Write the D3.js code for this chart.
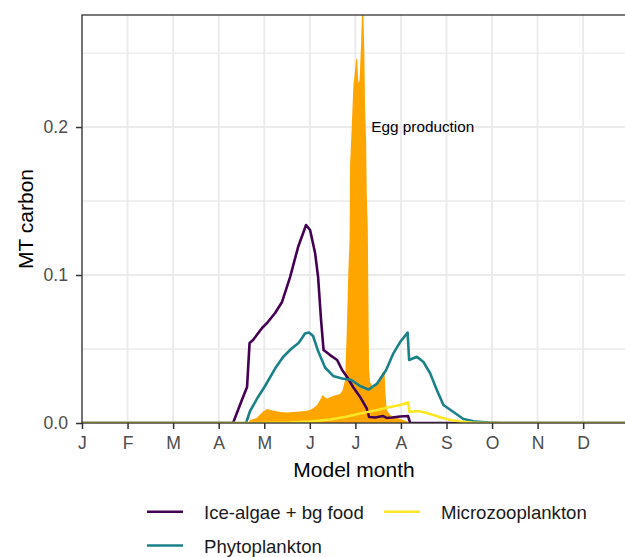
<!doctype html>
<html lang="en">
<head>
  <meta charset="utf-8">
  <title>MT carbon by model month</title>
  <style>
    * { margin: 0; padding: 0; box-sizing: border-box; }
    body { background: #fff; }
    svg { font-family: "Liberation Sans", Arial, sans-serif; display: block; }
    .tick text { fill: #4d4d4d; font-size: 17.6px; }
    .tick line { stroke: #333; stroke-width: 1.5; }
  </style>
</head>
<body>
  <div id="container"></div>
  <script src="https://cdn.jsdelivr.net/npm/d3@7"></script>
  <script>
    // x values are model months, 0 = start of January
    const months = ['J','F','M','A','M','J','J','A','S','O','N','D'];
    const yTicks = [0, 0.1, 0.2];
    const yMinor = [0.05, 0.15, 0.25];

    const eggProduction = [
      [3.645,0],[3.689,0.002],[3.831,0.0034],[3.974,0.0078],[4.062,0.0095],[4.194,0.0084],
      [4.347,0.0074],[4.501,0.0071],[4.633,0.0074],[4.786,0.0078],[4.896,0.0081],[5.006,0.0088],
      [5.094,0.0105],[5.160,0.0122],[5.225,0.0155],[5.280,0.0189],[5.335,0.0172],[5.379,0.0166],
      [5.478,0.0179],[5.588,0.0189],[5.665,0.0196],[5.720,0.0223],[5.774,0.0291],[5.812,0.0628],
      [5.847,0.1034],[5.873,0.1236],[5.884,0.1743],[5.922,0.2014],[5.957,0.2284],[5.983,0.2351],
      [6.016,0.2453],[6.038,0.2466],[6.066,0.2297],[6.093,0.2318],[6.126,0.2568],[6.154,0.285],
      [6.174,0.28],[6.198,0.2486],[6.214,0.2115],[6.236,0.1912],[6.251,0.1541],[6.273,0.1304],
      [6.286,0.0831],[6.301,0.0358],[6.323,0.0277],[6.389,0.0236],[6.455,0.0257],[6.543,0.0304],
      [6.598,0.0345],[6.642,0.0331],[6.664,0.0189],[6.690,0.0088],[6.762,0.0054],[6.872,0.0041],
      [6.982,0.0027],[7.114,0.0014],[7.202,0]
    ];

    const iceAlgae = [
      [0,0],[3.315,0],[3.535,0.0176],[3.623,0.0243],[3.678,0.0541],[3.754,0.0561],[3.952,0.0642],
      [4.062,0.0676],[4.238,0.0743],[4.391,0.0818],[4.567,0.0986],[4.743,0.1189],[4.918,0.1338],
      [5.006,0.1304],[5.116,0.1149],[5.182,0.0986],[5.247,0.0696],[5.302,0.0493],[5.445,0.0459],
      [5.599,0.0426],[5.709,0.0358],[5.818,0.0311],[5.950,0.0243],[6.104,0.0176],[6.246,0.0101],
      [6.301,0.0041],[6.433,0.0037],[6.609,0.0047],[6.686,0.0034],[6.806,0.0037],[6.982,0.0044],
      [7.158,0.0047],[7.202,0],[11.95,0]
    ];

    const phytoplankton = [
      [0,0],[3.601,0],[3.689,0.0081],[3.864,0.0176],[4.018,0.025],[4.238,0.0368],[4.413,0.0446],
      [4.589,0.05],[4.753,0.0541],[4.896,0.0605],[4.984,0.0611],[5.072,0.0588],[5.182,0.0486],
      [5.335,0.0375],[5.511,0.0318],[5.709,0.0301],[5.906,0.0291],[6.104,0.025],[6.286,0.0226],
      [6.470,0.0264],[6.675,0.0358],[6.835,0.0471],[6.982,0.0547],[7.147,0.0611],[7.180,0.0426],
      [7.349,0.0448],[7.494,0.0412],[7.641,0.0336],[7.788,0.0223],[7.933,0.0122],[8.152,0.0074],
      [8.372,0.0027],[8.591,0.0012],[8.914,0.0003],[9.178,0],[11.95,0]
    ];

    const microzooplankton = [
      [0,0],[3.908,0],[4.567,0.0003],[5.006,0.001],[5.445,0.0024],[5.774,0.0041],[6.104,0.0064],
      [6.433,0.0084],[6.762,0.0108],[6.982,0.0122],[7.158,0.0139],[7.190,0.0074],[7.355,0.0081],
      [7.531,0.0071],[7.706,0.0054],[7.882,0.0037],[8.080,0.002],[8.299,0.001],[8.563,0.0003],
      [8.848,0],[11.95,0]
    ];

    const series = [
      { name: 'Ice-algae + bg food', color: '#440154', data: iceAlgae },
      { name: 'Phytoplankton', color: '#1a8189', data: phytoplankton },
      { name: 'Microzooplankton', color: '#FDE725', data: microzooplankton }
    ];

    const W = 625, H = 557;
    const pL = 82, pT = 15, pR = 626, pB = 423;

    const svg = d3.select('#container').append('svg').attr('width', W).attr('height', H);

    const x = d3.scaleLinear().domain([0, 11.94]).range([pL, pR]);
    const y = d3.scaleLinear().domain([0, 0.2757]).range([pB, pT]);

    svg.append('clipPath').attr('id', 'panel')
      .append('rect').attr('x', pL).attr('y', pT).attr('width', pR - pL).attr('height', pB - pT);

    // grid
    const grid = svg.append('g').attr('stroke', '#ebebeb');
    grid.selectAll('.ymin').data(yMinor).join('line')
      .attr('x1', pL).attr('x2', pR).attr('y1', d => y(d)).attr('y2', d => y(d))
      .attr('stroke-width', 1.3);
    grid.selectAll('.ymaj').data(yTicks).join('line')
      .attr('x1', pL).attr('x2', pR).attr('y1', d => y(d)).attr('y2', d => y(d))
      .attr('stroke-width', 1.9);
    grid.selectAll('.xmaj').data(d3.range(months.length)).join('line')
      .attr('x1', d => x(d)).attr('x2', d => x(d)).attr('y1', pT).attr('y2', pB)
      .attr('stroke-width', 1.9);

    const plot = svg.append('g').attr('clip-path', 'url(#panel)');

    plot.append('path').datum(eggProduction)
      .attr('fill', '#FFA500')
      .attr('d', d3.area().x(d => x(d[0])).y0(y(0)).y1(d => y(d[1])));

    const line = d3.line().x(d => x(d[0])).y(d => y(d[1]));
    plot.selectAll('.series').data(series).join('path')
      .attr('fill', 'none')
      .attr('stroke', d => d.color)
      .attr('stroke-width', 2.6)
      .attr('stroke-linejoin', 'round')
      .attr('d', d => line(d.data));

    svg.append('text')
      .attr('x', x(6.35)).attr('y', y(0.2)).attr('dy', '0.35em')
      .attr('font-size', 15.3).attr('fill', '#000')
      .text('Egg production');

    // axes
    const xAxis = d3.axisBottom(x).tickValues(d3.range(months.length))
      .tickFormat(i => months[i]).tickSize(6).tickPadding(8);
    svg.append('g').attr('transform', `translate(0,${pB})`).call(xAxis)
      .call(g => g.select('.domain').remove());

    const yAxis = d3.axisLeft(y).tickValues(yTicks)
      .tickFormat(d3.format('.1f')).tickSize(6).tickPadding(8);
    svg.append('g').attr('transform', `translate(${pL},0)`).call(yAxis)
      .call(g => g.select('.domain').remove());

    svg.append('rect')
      .attr('x', pL).attr('y', pT).attr('width', pR - pL).attr('height', pB - pT)
      .attr('fill', 'none').attr('stroke', '#333').attr('stroke-width', 1.3);

    svg.append('text')
      .attr('x', (pL + pR) / 2).attr('y', 477)
      .attr('text-anchor', 'middle').attr('font-size', 21).text('Model month');

    svg.append('text')
      .attr('transform', `translate(33,${(pT + pB) / 2}) rotate(-90)`)
      .attr('text-anchor', 'middle').attr('font-size', 21).text('MT carbon');

    // legend: 2 columns, ice-algae + micro on row 1, phyto on row 2
    const legendPos = [[147, 511.7], [147, 545.5], [384, 511.7]];
    const leg = svg.append('g').selectAll('g').data(series).join('g')
      .attr('transform', (d, i) => `translate(${legendPos[i][0]},${legendPos[i][1]})`);
    leg.append('line').attr('x1', 0).attr('x2', 36)
      .attr('stroke', d => d.color).attr('stroke-width', 2.6);
    leg.append('text').attr('x', 57).attr('y', 7.2)
      .attr('font-size', 18.6).attr('fill', '#1a1a1a').text(d => d.name);
  </script>
</body>
</html>
